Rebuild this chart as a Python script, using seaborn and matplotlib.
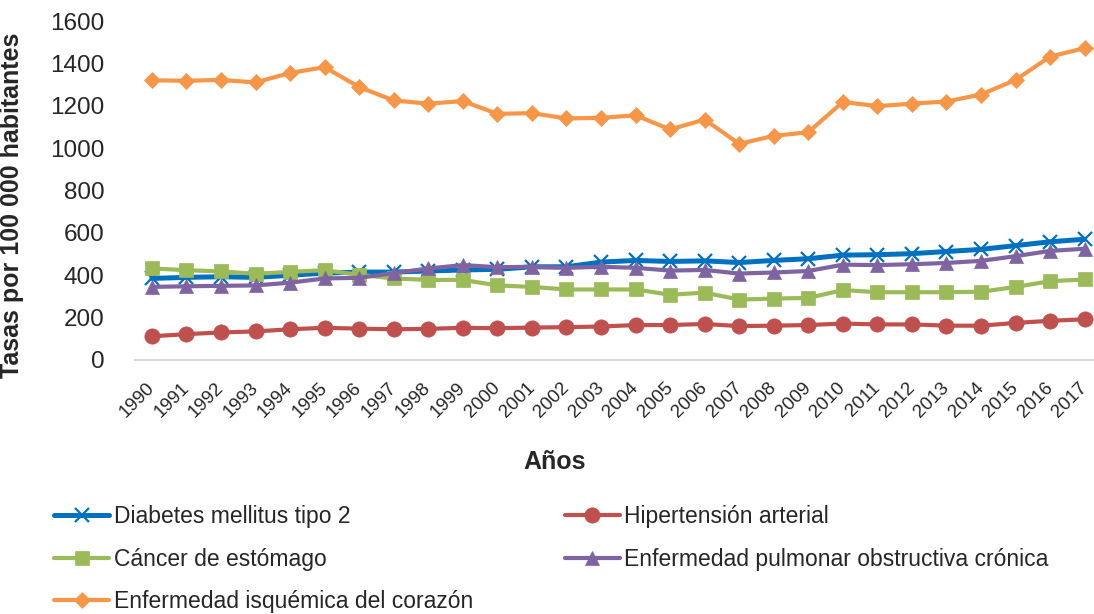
import numpy as np
import pandas as pd
import matplotlib
matplotlib.use('Agg')
import matplotlib.pyplot as plt
import matplotlib.transforms as mtransforms
import seaborn as sns

### Data

years = list(range(1990, 2018))

diabetes = [385, 390, 393, 390, 400, 410, 415, 415, 420, 425, 428, 440, 440, 462,
            470, 465, 468, 460, 470, 478, 495, 497, 502, 512, 522, 540, 558, 570]
hipertension = [112, 122, 130, 135, 145, 152, 148, 145, 147, 152, 150, 153, 155, 158,
                165, 165, 170, 160, 162, 165, 172, 168, 168, 162, 162, 175, 185, 192]
cancer = [432, 424, 418, 407, 416, 424, 402, 385, 378, 378, 352, 345, 333, 333,
          333, 308, 318, 285, 290, 293, 330, 320, 320, 320, 322, 345, 372, 380]
epoc = [345, 348, 350, 352, 365, 385, 388, 410, 432, 448, 438, 440, 435, 440,
        435, 422, 425, 408, 413, 420, 450, 448, 452, 458, 468, 490, 515, 525]
isquemica = [1320, 1318, 1322, 1310, 1355, 1382, 1288, 1225, 1210, 1222, 1162, 1165, 1140, 1143,
             1155, 1088, 1135, 1020, 1058, 1075, 1218, 1198, 1210, 1220, 1253, 1322, 1432, 1472]

series_names = ['Diabetes mellitus tipo 2', 'Hipertensión arterial', 'Cáncer de estómago',
                'Enfermedad pulmonar obstructiva crónica', 'Enfermedad isquémica del corazón']
series_values = [diabetes, hipertension, cancer, epoc, isquemica]

### Styles

colors = ['#0070C0', '#C0504D', '#9BBB59', '#8064A2', '#F79646']
markers = ['x', 'o', 's', '^', 'D']
msizes = [10, 11, 10, 10, 8]
lwidths = [3.6, 3, 3, 3, 3]

sns.set_style('white')
plt.rcParams['font.family'] = ['Liberation Sans', 'DejaVu Sans']

fig = plt.figure(figsize=(10.94, 6.14), dpi=100)
ax = fig.add_axes([135 / 1094, 254 / 614, 1 - 135 / 1094, 339 / 614])

idx = np.arange(len(years))
for name, vals, c, m, ms, lw in zip(series_names, series_values, colors, markers, msizes, lwidths):
    sns.lineplot(x=idx, y=vals, ax=ax, color=c, marker=m, markersize=ms, linewidth=lw,
                 markeredgecolor=c, markerfacecolor=c,
                 markeredgewidth=1.6 if m == 'x' else 0.5, label=name)

ax.set_ylim(0, 1600)
ax.set_yticks(range(0, 1601, 200))
ax.set_xlim(-0.49, 27.27)
ax.set_xticks(idx)
ax.set_xticklabels([str(y) for y in years], rotation=45, ha='right', va='center',
                   rotation_mode='anchor', fontsize=13.5)
# nudge rotated year labels a bit left so 2017 stays inside
shift = mtransforms.ScaledTranslation(-5 / 100, 0, fig.dpi_scale_trans)
for lab in ax.get_xticklabels():
    lab.set_transform(lab.get_transform() + shift)
ax.tick_params(axis='y', labelsize=17.5, length=0, pad=22)
ax.tick_params(axis='x', length=0, pad=18)

for s in ['top', 'right', 'left']:
    ax.spines[s].set_visible(False)
ax.spines['bottom'].set_color('#D9D9D9')
ax.spines['bottom'].set_linewidth(1.5)

ax.set_ylabel('Tasas por 100 000 habitantes', fontsize=18, fontweight='bold')
ax.yaxis.set_label_coords(-111 / 959, 0.457)
ax.set_xlabel('')
fig.text(555 / 1094, 1 - 462 / 614, 'Años', fontsize=18, fontweight='bold', ha='center', va='center')

### Legend, row-wise order (matplotlib fills columns first)

handles, labels = ax.get_legend_handles_labels()
ax.get_legend().remove()
order = [0, 2, 4, 1, 3]
fig.legend([handles[i] for i in order], [labels[i] for i in order], ncol=2,
           loc='upper left', bbox_to_anchor=(45 / 1094, 1 - 496 / 614), frameon=False,
           fontsize=16.5, handlelength=2.4, handletextpad=0.2, labelspacing=0.85,
           columnspacing=4.0, borderaxespad=0)

fig.savefig('out.png', dpi=100)
